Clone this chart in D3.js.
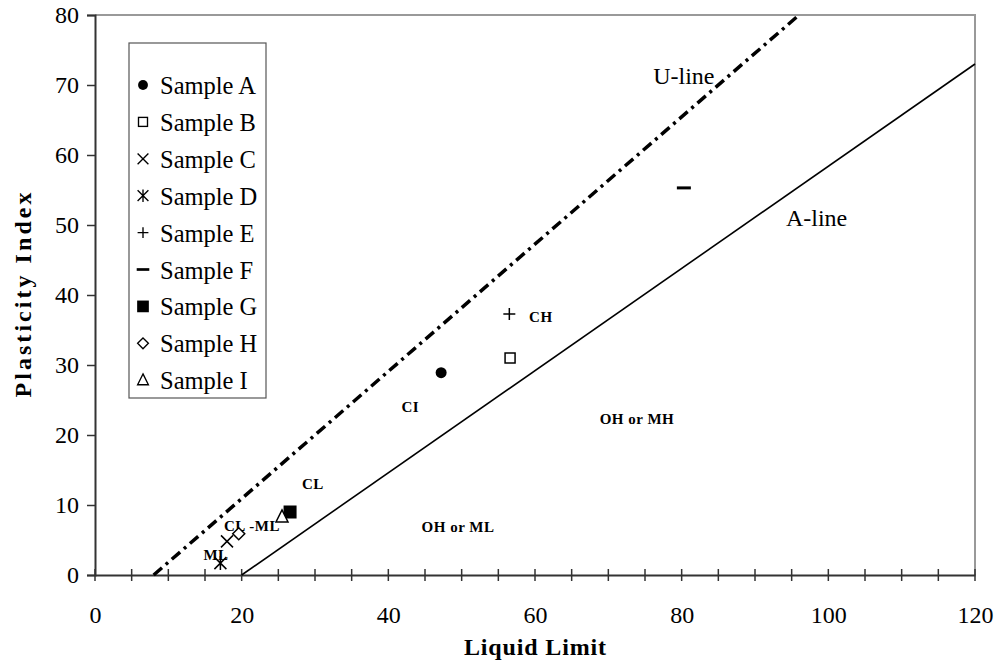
<!DOCTYPE html>
<head>
<meta charset="utf-8">
<script src="https://d3js.org/d3.v7.min.js"></script>
<style>
    body{margin:0;background:#fff;}
    text{font-family:"Liberation Serif","Times New Roman",serif;}
    .zone{font-size:15px;font-weight:bold;letter-spacing:0.5px;}
</style>
</head>
<body>
<div id="container"></div>
<script>
    // samples: name, symbol, liquid limit, plasticity index
    var sampleNames = ['Sample A','Sample B','Sample C','Sample D','Sample E','Sample F','Sample G','Sample H','Sample I'];
    var sampleSymbols = ['dot','square','cross','star','plus','dash','fsquare','diamond','triangle'];
    var sampleLL = [47.2, 56.6, 18.0, 17.1, 56.5, 80.3, 26.6, 19.6, 25.5];
    var samplePI = [28.9, 31.0, 4.8, 1.7, 37.3, 55.3, 9.0, 5.9, 8.3];

    // reference lines
    var uLine = [[8,0],[96,80]];
    var aLine = [[20,0],[120,73]];

    // zone labels
    var zoneText = ['CI','CH','CL','CL -ML','ML','OH or ML','OH or MH'];
    var zoneLL = [43.0, 60.8, 29.7, 21.4, 16.5, 49.5, 73.9];
    var zonePI = [23.3, 36.2, 12.3, 6.3, 2.2, 6.1, 21.6];

    var xTicks = [0,20,40,60,80,100,120];
    var xMinor = d3.range(0,121,5);
    var yTicks = [0,10,20,30,40,50,60,70,80];

    var svg = d3.select('#container').append('svg').attr('width',999).attr('height',666);
    var x = d3.scaleLinear().domain([0,120]).range([95,975]);
    var y = d3.scaleLinear().domain([0,80]).range([575,15]);

    // frame top / right
    svg.append('path').attr('d','M'+x(0)+','+y(80)+'H'+x(120)+'V'+y(0))
        .attr('fill','none').attr('stroke','#999').attr('stroke-width',2);

    // y axis
    var yAxis = svg.append('g').attr('transform','translate('+x(0)+',0)')
        .call(d3.axisLeft(y).tickValues(yTicks).tickSize(8).tickPadding(8));
    // x axis, ticks cross the line
    var xAxis = svg.append('g').attr('transform','translate(0,'+y(0)+')')
        .call(d3.axisBottom(x).tickValues(xTicks).tickSize(0).tickPadding(31));
    xAxis.selectAll('.minor').data(xMinor).enter().append('line').attr('class','minor')
        .attr('x1',d => x(d)).attr('x2',d => x(d)).attr('y1',-6).attr('y2',6)
        .attr('stroke','#333').attr('stroke-width',1.5);
    [yAxis,xAxis].forEach(a => {
        a.select('.domain').attr('stroke','#333').attr('stroke-width',2);
        a.selectAll('.tick line').attr('stroke','#333').attr('stroke-width',1.5);
        a.selectAll('text').attr('font-size',24).attr('fill','#000')
            .attr('font-family','"Liberation Serif",serif');
    });

    // axis titles
    svg.append('text').text('Liquid Limit').attr('x',x(60)).attr('y',655)
        .attr('text-anchor','middle').attr('font-size',24).attr('font-weight','bold')
        .attr('textLength',142);
    svg.append('text').text('Plasticity Index').attr('transform','translate(31,'+y(40)+') rotate(-90)')
        .attr('text-anchor','middle').attr('font-size',24).attr('font-weight','bold')
        .attr('textLength',205);

    // U-line & A-line
    var line = d3.line().x(d => x(d[0])).y(d => y(d[1]));
    svg.append('path').attr('d',line(uLine)).attr('fill','none').attr('stroke','#000')
        .attr('stroke-width',3.5).attr('stroke-dasharray','11,5,3,5');
    svg.append('path').attr('d',line(aLine)).attr('fill','none').attr('stroke','#000').attr('stroke-width',1.6);
    svg.append('text').text('U-line').attr('x',x(80.3)).attr('y',y(70.2)).attr('font-size',24).attr('text-anchor','middle');
    svg.append('text').text('A-line').attr('x',x(98.4)).attr('y',y(49.9)).attr('font-size',24).attr('text-anchor','middle');

    // zone labels
    svg.selectAll('.zone').data(zoneText).enter().append('text').attr('class','zone')
        .text(d => d).attr('text-anchor','middle')
        .attr('x',(d,i) => x(zoneLL[i])).attr('y',(d,i) => y(zonePI[i]));

    // marker drawer
    function marker(g, sym){
        if(sym=='dot') g.append('circle').attr('r',5.5).attr('fill','#000');
        if(sym=='square') g.append('rect').attr('x',-5).attr('y',-5).attr('width',10).attr('height',10).attr('fill','#fff').attr('stroke','#000').attr('stroke-width',1.5);
        if(sym=='fsquare') g.append('rect').attr('x',-6.5).attr('y',-6.5).attr('width',13).attr('height',13).attr('fill','#000');
        if(sym=='cross') g.append('path').attr('d','M-6,-6L6,6M-6,6L6,-6').attr('stroke','#000').attr('stroke-width',1.5);
        if(sym=='star') g.append('path').attr('d','M-6,-6L6,6M-6,6L6,-6M0,-7V7').attr('stroke','#000').attr('stroke-width',1.5);
        if(sym=='plus') g.append('path').attr('d','M-6,0H6M0,-6V6').attr('stroke','#000').attr('stroke-width',1.5);
        if(sym=='dash') g.append('path').attr('d','M-7,0H7').attr('stroke','#000').attr('stroke-width',3);
        if(sym=='diamond') g.append('path').attr('d','M0,-6L6,0L0,6L-6,0Z').attr('fill','#fff').attr('stroke','#000').attr('stroke-width',1.5);
        if(sym=='triangle') g.append('path').attr('d','M0,-7L6,5H-6Z').attr('fill','#fff').attr('stroke','#000').attr('stroke-width',1.5);
    }

    svg.selectAll('.pt').data(sampleNames).enter().append('g').attr('class','pt')
        .attr('transform',(d,i) => 'translate('+x(sampleLL[i])+','+y(samplePI[i])+')')
        .each(function(d,i){ marker(d3.select(this), sampleSymbols[i]); });

    // legend
    var lg = svg.append('g').attr('transform','translate(129,43)');
    lg.append('rect').attr('width',137).attr('height',355).attr('fill','#fff').attr('stroke','#555').attr('stroke-width',1.2);
    var items = lg.selectAll('.item').data(sampleNames).enter().append('g').attr('class','item')
        .attr('transform',(d,i) => 'translate(0,'+(51+i*36.9)+')');
    items.each(function(d,i){
        var m = d3.select(this).append('g').attr('transform','translate(14,-9) scale(0.9)');
        marker(m, sampleSymbols[i]);
    });
    items.append('text').text(d => d).attr('x',31).attr('y',0).attr('font-size',24.5);
</script>
</body>
